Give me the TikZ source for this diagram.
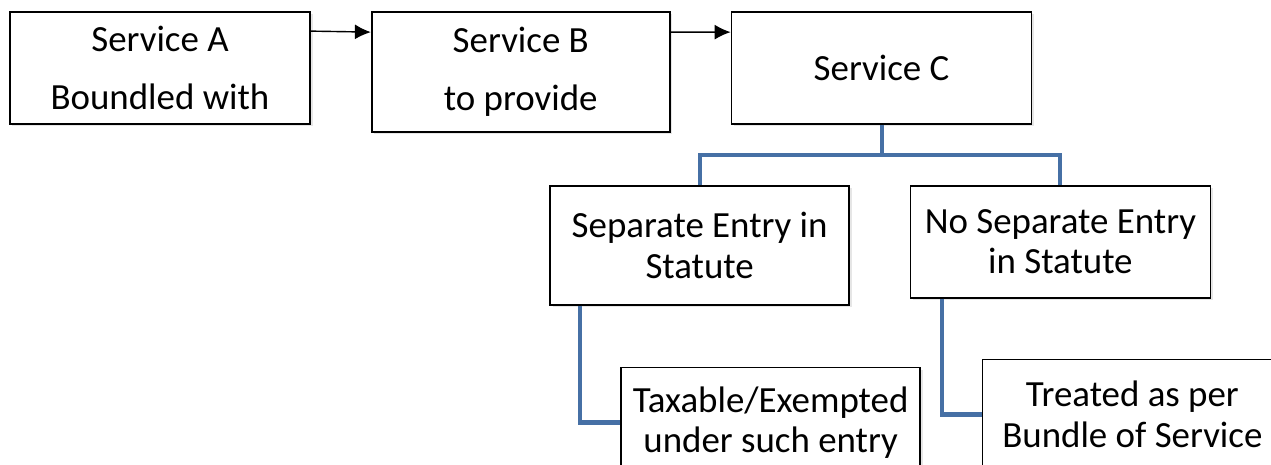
\documentclass[tikz,border=0pt]{standalone}
\usepackage{fontspec}
\setmainfont{Carlito}
\usepackage{tikz}
\usetikzlibrary{arrows.meta,positioning,shadows}

\definecolor{treeblue}{RGB}{70,112,165}

\tikzset{
  box/.style={draw, line width=1pt, fill=white, align=center, inner sep=2pt, font=\fontsize{21}{23}\selectfont,
    drop shadow={shadow xshift=0.05cm, shadow yshift=-0.05cm, opacity=0.2}},
  flow/.style={-{Latex[length=3.2mm,width=3mm]}, line width=0.8pt},
  tree/.style={treeblue, line width=2.3pt}
}

\begin{document}
\begin{tikzpicture}
            \clip (0,0) rectangle (25.42,-9.3);
            \node[box, minimum width=6cm, minimum height=2.24cm] (srvA) at (3.2,-1.36) {Service A\\[0.36cm]Boundled with};
            \node[box, minimum width=5.96cm, minimum height=2.4cm, right=1.2cm of srvA, yshift=-0.08cm] (srvB) {Service B\\[0.36cm]to provide};
            \node[box, minimum width=6cm, minimum height=2.24cm, right=1.2cm of srvB, yshift=0.08cm] (srvC) {Service C};
            \node[box, minimum width=5.98cm, minimum height=2.38cm, below=1.2cm of srvC.south west, xshift=-0.62cm] (sep) {Separate Entry in\\Statute};
            \node[box, minimum width=6cm, minimum height=2.24cm, below=1.2cm of srvC.south east, xshift=0.56cm] (nosep) {No Separate Entry\\in Statute};
            \node[box, minimum width=5.98cm, minimum height=2.2cm, below=1.22cm of sep.south, xshift=1.42cm] (taxable) {Taxable/Exempted\\under such entry};
            \node[box, minimum width=6cm, minimum height=2.2cm, below=1.2cm of nosep.south, xshift=1.44cm] (treated) {Treated as per\\Bundle of Service};

            \draw[flow] ([yshift=-0.4cm]srvA.north east) -- ([yshift=-0.42cm]srvB.north west);
            \draw[flow] ([yshift=-0.42cm]srvB.north east) -- ([yshift=-0.42cm]srvC.north west);

            \draw[tree] (srvC.south) -- ++(0,-0.6) -| (sep.north);
            \draw[tree] (srvC.south) -- ++(0,-0.6) -| (nosep.north);
            \draw[tree] ([xshift=0.62cm]sep.south west) |- (taxable.west);
            \draw[tree] ([xshift=0.64cm]nosep.south west) |- (treated.west);
        \end{tikzpicture}
\end{document}
